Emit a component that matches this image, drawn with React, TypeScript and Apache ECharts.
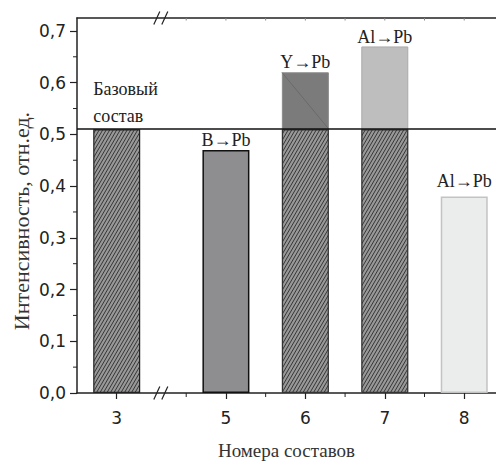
import React, { useEffect, useRef } from "react";
import * as echarts from "echarts";

// ---- data ----
const categories = ["3", "5", "6", "7", "8"];
// position of each composition on the (broken) horizontal axis
const axisSlots = [3.625, 5, 6, 7, 8];
const totalValues = [0.51, 0.47, 0.62, 0.67, 0.38];
const basePart: (number | null)[] = [null, null, 0.51, 0.51, null];
const baseLevel = 0.51;
const barNotes = ["Базовый\nсостав", "B→Pb", "Y→Pb", "Al→Pb", "Al→Pb"];
const yTicks = [0, 0.1, 0.2, 0.3, 0.4, 0.5, 0.6, 0.7];
const yMinorTicks = [0.05, 0.15, 0.25, 0.35, 0.45, 0.55, 0.65];
const xMinorTicks = [4.5, 5.5, 6.5, 7.5];
const topTicks = [4.5, 5, 5.5, 6, 6.5, 7, 7.5, 8];
const breakAt = 4.18;

// ---- layout ----
const W = 496;
const H = 461;
const GL = 77;
const GT = 18;
const GR = 0;
const GB = 68;
const XMIN = 3.125;
const XMAX = 8.4;
const YMAX = 0.725;
const BAR_W = 47;

const SANS = "DejaVu Sans";
const SERIF = "'Liberation Serif', 'Times New Roman', serif";

function makeHatch() {
  const c = document.createElement("canvas");
  c.width = 7;
  c.height = 12;
  const g = c.getContext("2d")!;
  g.fillStyle = "#989898";
  g.fillRect(0, 0, 7, 12);
  g.strokeStyle = "#2a2a2a";
  g.lineWidth = 0.9;
  for (let k = -3; k <= 3; k++) {
    const x0 = k * 3.5;
    g.beginPath();
    g.moveTo(x0, 12);
    g.lineTo(x0 + 7, 0);
    g.stroke();
  }
  return { image: c, repeat: "repeat", imageWidth: 7, imageHeight: 12 } as any;
}

export default function App() {
  const ref = useRef<HTMLDivElement>(null);
  useEffect(() => {
    document.body.style.margin = "0";
    const chart = echarts.init(ref.current!, null, { renderer: "svg" });
    const hatch = makeHatch();

    const pxPerUnit = (W - GL - GR) / (XMAX - XMIN);
    const hw = BAR_W / 2 / pxPerUnit;

    const styles = [
      { color: hatch, borderColor: "#222", borderWidth: 1.2 },
      { color: "#8e8e90", borderColor: "#111", borderWidth: 1.5 },
      { color: "#7b7b7b", borderColor: "#8a8a8a", borderWidth: 1 },
      { color: "#bebebe", borderColor: "#aaaaaa", borderWidth: 1 },
      { color: "#ebecec", borderColor: "#c3c3c3", borderWidth: 1.5 },
    ];
    const labelDist = [0, 1, 1.5, 0, 6];
    const labelFont = { fontFamily: SERIF, fontSize: 18, color: "#222" };

    const dataA = axisSlots.map((s, i) => ({
      value: [s, totalValues[i]],
      itemStyle: styles[i],
      label:
        i === 0
          ? {
              show: true,
              ...labelFont,
              formatter: barNotes[i],
              position: [0, 0],
              align: "left",
              verticalAlign: "bottom",
              lineHeight: 27,
            }
          : {
              show: true,
              ...labelFont,
              formatter: barNotes[i],
              position: "top",
              distance: labelDist[i],
            },
    }));
    const dataB = axisSlots
      .map((s, i) => (basePart[i] == null ? null : { value: [s, basePart[i]] }))
      .filter((d) => d != null);

    const i6 = categories.indexOf("6");

    chart.setOption({
      animation: false,
      backgroundColor: "#fff",
      grid: {
        left: GL,
        top: GT,
        right: GR,
        bottom: GB,
        containLabel: false,
        outerBoundsMode: "none",
      },
      xAxis: [
        {
          type: "value",
          min: XMIN,
          max: XMAX,
          position: "bottom",
          splitLine: { show: false },
          name: "Номера составов",
          nameLocation: "middle",
          nameGap: 48,
          nameTextStyle: { fontFamily: SERIF, fontSize: 19, color: "#333" },
          axisLine: { show: true, onZero: false, lineStyle: { color: "#222", width: 1.5 } },
          axisTick: {
            show: true,
            customValues: axisSlots,
            length: 6,
            lineStyle: { color: "#222", width: 1.2 },
          },
          axisLabel: {
            show: true,
            customValues: axisSlots,
            margin: 16,
            fontFamily: SANS,
            fontSize: 17,
            color: "#222",
            formatter: (v: number) => {
              const k = axisSlots.findIndex((s) => Math.abs(s - v) < 1e-6);
              return k >= 0 ? categories[k] : "";
            },
          },
        },
        {
          type: "value",
          min: XMIN,
          max: XMAX,
          position: "top",
          splitLine: { show: false },
          axisLine: { show: true, onZero: false, lineStyle: { color: "#222", width: 1.5 } },
          axisTick: { show: false },
          axisLabel: { show: false },
        },
      ],
      yAxis: [
        {
          type: "value",
          min: 0,
          max: YMAX,
          position: "left",
          splitLine: { show: false },
          axisLine: { show: true, onZero: false, lineStyle: { color: "#222", width: 1.5 } },
          axisTick: {
            show: true,
            customValues: yTicks,
            length: 7,
            lineStyle: { color: "#222", width: 1.2 },
          },
          axisLabel: {
            show: true,
            customValues: yTicks,
            margin: 11,
            fontFamily: SANS,
            fontSize: 17,
            color: "#222",
            formatter: (v: number) => v.toFixed(1).replace(".", ","),
          },
        },
      ],
      series: [
        {
          type: "bar",
          xAxisIndex: 0,
          yAxisIndex: 0,
          barWidth: BAR_W,
          barGap: "-100%",
          data: dataA,
          markLine: {
            silent: true,
            symbol: "none",
            label: { show: false },
            lineStyle: { color: "#666", width: 0.8, type: "solid" },
            data: [
              [
                { coord: [axisSlots[i6] - hw, totalValues[i6]] },
                { coord: [axisSlots[i6] + hw, basePart[i6]] },
              ],
            ],
          },
        },
        {
          type: "bar",
          xAxisIndex: 0,
          yAxisIndex: 0,
          barWidth: BAR_W,
          barGap: "-100%",
          data: dataB,
          itemStyle: { color: hatch, borderColor: "#333", borderWidth: 1.2 },
          markLine: {
            silent: true,
            symbol: "none",
            label: { show: false },
            lineStyle: { color: "#111", width: 1.6, type: "solid" },
            data: [{ yAxis: baseLevel }],
          },
        },
        {
          type: "scatter",
          xAxisIndex: 1,
          yAxisIndex: 0,
          symbolSize: 0,
          silent: true,
          itemStyle: { opacity: 0 },
          data: [[axisSlots[1], totalValues[1]]],
        },
      ],
    });

    // minor ticks and break marks, placed through the axes' own scales
    const px = (x: number, y: number) =>
      chart.convertToPixel({ xAxisIndex: 0, yAxisIndex: 0 }, [x, y]) as number[];
    const [, yBottom] = px(XMIN, 0);
    const [, yTop] = px(XMIN, YMAX);
    const [xLeft] = px(XMIN, 0);
    const tickLine = (x1: number, y1: number, x2: number, y2: number, color = "#222") => ({
      type: "line",
      silent: true,
      shape: { x1, y1, x2, y2 },
      style: { stroke: color, lineWidth: 1 },
      z: 50,
    });
    const minorX = xMinorTicks.map((v) => {
      const [x] = px(v, 0);
      return tickLine(x, yBottom, x, yBottom + 4);
    });
    const minorY = yMinorTicks.map((v) => {
      const [, y] = px(XMIN, v);
      return tickLine(xLeft, y, xLeft - 4, y);
    });
    const topT = topTicks.map((v) => {
      const [x] = px(v, 0);
      return tickLine(x, yTop, x, yTop + 2.5, "#8a8a8a");
    });
    const [bx] = px(breakAt, 0);
    const slash = (cx: number, cy: number) =>
      [-4, 4].map((dx) => ({
        type: "line",
        silent: true,
        shape: { x1: cx + dx - 3, y1: cy + 6.5, x2: cx + dx + 3, y2: cy - 6.5 },
        style: { stroke: "#222", lineWidth: 1.2 },
        z: 100,
      }));

    chart.setOption({
      graphic: [
        {
          type: "text",
          x: 21,
          y: 221,
          rotation: Math.PI / 2,
          style: {
            text: "Интенсивность, отн.ед.",
            fontFamily: SERIF,
            fontSize: 22,
            fill: "#333",
            align: "center",
            verticalAlign: "middle",
          },
        },
        ...minorX,
        ...minorY,
        ...topT,
        ...slash(bx, yTop),
        ...slash(bx, yBottom),
      ],
    });
    return () => chart.dispose();
  }, []);
  return <div ref={ref} style={{ width: W, height: H }} />;
}
